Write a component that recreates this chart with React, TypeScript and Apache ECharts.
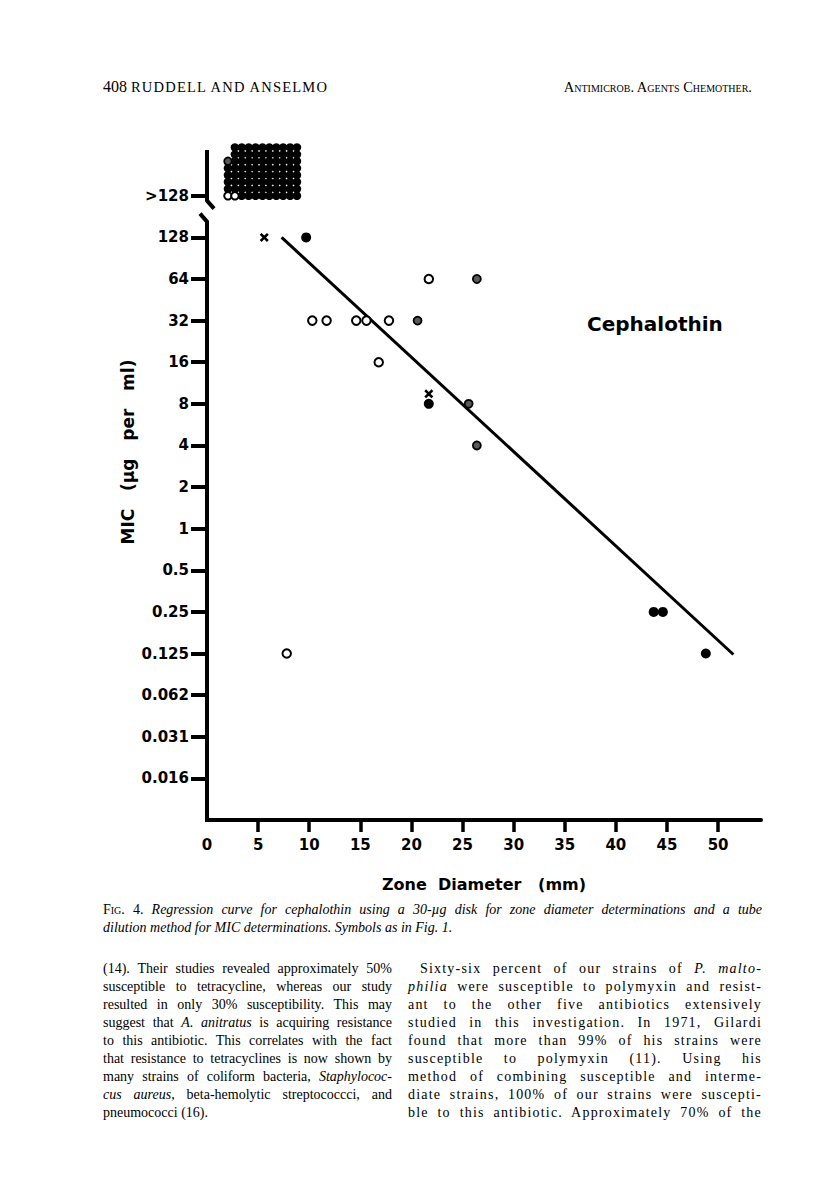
import React, { useEffect, useRef } from "react";
import * as echarts from "echarts";

// ---- axis definitions ----
const xTickValues = [5, 10, 15, 20, 25, 30, 35, 40, 45, 50];
const xLabelValues = [0, 5, 10, 15, 20, 25, 30, 35, 40, 45, 50];
const yLevels = [-6, -5, -4, -3, -2, -1, 0, 1, 2, 3, 4, 5, 6, 7, 8];
const yTickLabels = ["0.016", "0.031", "0.062", "0.125", "0.25", "0.5", "1", "2", "4", "8", "16", "32", "64", "128", ">128"];

// ---- individual strains (zone diameter mm, MIC µg/ml) ----
const filledZone = [9.7, 21.7, 43.7, 44.6, 48.8];
const filledMic = [128, 8, 0.25, 0.25, 0.125];
const openZone = [7.8, 21.7, 10.3, 11.7, 14.6, 15.6, 17.8, 16.8];
const openMic = [0.125, 64, 32, 32, 32, 32, 32, 16];
const hatchedZone = [26.4, 20.6, 25.6, 26.4];
const hatchedMic = [64, 32, 8, 4];
const crossZone = [5.6, 21.7];
const crossMic = [128, 8];
const crossStack = [0, 1];

// ---- regression line ----
const regressionZone = [7.3, 51.5];
const regressionMic = [128, 0.123];

// ---- >128 cluster (stacked symbols) ----
const clusterZone = [2.05, 2.73, 3.4, 4.08, 4.75, 5.43, 6.1, 6.78, 7.45, 8.13, 8.8];
const clusterLevel = [8.0, 8.166, 8.332, 8.498, 8.664, 8.83, 8.996, 9.162];
const clusterRows = [
  "ooFFFFFFFFF",
  "FFFFFFFFFFF",
  "FFFFFFFFFFF",
  "FFFFFFFFFFF",
  "FFFFFFFFFFF",
  "hFFFFFFFFFF",
  ".FFFFFFFFFF",
  ".FFFFFFFFFF",
];

const FONT = '"DejaVu Sans", "Liberation Sans", sans-serif';
const CROSS = "path://M2,0 L5,3 L8,0 L10,2 L7,5 L10,8 L8,10 L5,7 L2,10 L0,8 L3,5 L0,2 Z";

export default function App() {
  const ref = useRef<HTMLDivElement>(null);

  useEffect(() => {
    const chart = echarts.init(ref.current!, null, { renderer: "svg" });
    const lg = (v: number) => Math.log2(v);

    const cFilled: number[][] = [];
    const cOpen: number[][] = [];
    const cHatch: number[][] = [];
    clusterRows.forEach((row, r) => {
      row.split("").forEach((ch, c) => {
        const pt = [clusterZone[c], clusterLevel[r]];
        if (ch === "F") cFilled.push(pt);
        else if (ch === "o") cOpen.push(pt);
        else if (ch === "h") cHatch.push(pt);
      });
    });

    const filledStyle = { color: "#000", opacity: 1 };
    const openStyle = { color: "#fff", borderColor: "#000", borderWidth: 2, opacity: 1 };
    const hatchStyle = { color: "#5a5a5a", borderColor: "#000", borderWidth: 1.8, opacity: 1 };

    chart.setOption({
      animation: false,
      grid: { left: 207, top: 150, width: 554, height: 670 },
      xAxis: {
        type: "value",
        min: 0,
        max: 54.2,
        interval: 5,
        splitLine: { show: false },
        axisLine: { show: true, onZero: false, lineStyle: { color: "#000", width: 4 } },
        axisTick: { show: true, customValues: xTickValues, length: 12, lineStyle: { color: "#000", width: 3.5 } },
        axisLabel: {
          customValues: xLabelValues,
          margin: 17,
          color: "#000",
          fontFamily: FONT,
          fontWeight: "bold",
          fontSize: 15,
        },
        name: "Zone  Diameter   (mm)",
        nameLocation: "middle",
        nameGap: 56,
        nameTextStyle: { color: "#000", fontFamily: FONT, fontWeight: "bold", fontSize: 16 },
      },
      yAxis: {
        type: "value",
        min: -7,
        max: 9.1,
        interval: 1,
        splitLine: { show: false },
        axisLine: { show: false, onZero: false },
        axisTick: { show: true, customValues: yLevels, length: 16, lineStyle: { color: "#000", width: 4 } },
        axisLabel: {
          customValues: yLevels,
          margin: 18,
          color: "#000",
          fontFamily: FONT,
          fontWeight: "bold",
          fontSize: 15,
          formatter: (v: number) => {
            const i = yLevels.indexOf(Math.round(v));
            return i >= 0 ? yTickLabels[i] : "";
          },
        },
      },
      series: [
        {
          type: "line",
          data: regressionZone.map((x, i) => [x, lg(regressionMic[i])]),
          symbol: "none",
          lineStyle: { color: "#000", width: 3, opacity: 1 },
          silent: true,
          z: 1,
        },
        { type: "scatter", clip: false, data: cFilled, symbol: "circle", symbolSize: 8.5, itemStyle: filledStyle, z: 2 },
        { type: "scatter", clip: false, data: cOpen, symbol: "circle", symbolSize: 7.5, itemStyle: openStyle, z: 3 },
        { type: "scatter", clip: false, data: cHatch, symbol: "circle", symbolSize: 7.5, itemStyle: hatchStyle, z: 3 },
        {
          type: "scatter",
          clip: false,
          data: filledZone.map((x, i) => [x, lg(filledMic[i])]),
          symbol: "circle",
          symbolSize: 10,
          itemStyle: filledStyle,
          z: 4,
        },
        {
          type: "scatter",
          clip: false,
          data: openZone.map((x, i) => [x, lg(openMic[i])]),
          symbol: "circle",
          symbolSize: 8.5,
          itemStyle: openStyle,
          z: 4,
        },
        {
          type: "scatter",
          clip: false,
          data: hatchedZone.map((x, i) => [x, lg(hatchedMic[i])]),
          symbol: "circle",
          symbolSize: 8,
          itemStyle: hatchStyle,
          z: 4,
        },
        {
          type: "scatter",
          clip: false,
          data: crossZone.map((x, i) => ({ value: [x, lg(crossMic[i])], symbolOffset: [0, -10 * crossStack[i]] })),
          symbol: CROSS,
          symbolSize: 9,
          itemStyle: filledStyle,
          z: 5,
        },
      ],
    });

    const p = (x: number, y: number) => chart.convertToPixel({ gridIndex: 0 }, [x, y]) as number[];
    const [ax, yTop] = p(0, 9.1);
    const [, yBottom] = p(0, -7);
    const [, y128] = p(0, 7);
    const [, yAbove] = p(0, 8);
    const mid = (y128 + yAbove) / 2;
    const axisStroke = { stroke: "#000", lineWidth: 4, fill: "none", lineJoin: "round" };

    chart.setOption({
      graphic: [
        {
          type: "polyline",
          shape: { points: [[ax, yTop], [ax, mid - 16], [ax + 7, mid - 8]] },
          style: axisStroke,
          silent: true,
        },
        {
          type: "polyline",
          shape: { points: [[ax - 7, mid - 3], [ax, mid + 5], [ax, yBottom + 2]] },
          style: axisStroke,
          silent: true,
        },
        {
          type: "text",
          x: 128,
          y: 452,
          rotation: Math.PI / 2,
          style: {
            text: "MIC   (µg   per   ml)",
            fontFamily: FONT,
            fontWeight: "bold",
            fontSize: 17,
            fill: "#000",
            align: "center",
            verticalAlign: "middle",
          },
          silent: true,
        },
        {
          type: "text",
          x: 587,
          y: 324,
          style: {
            text: "Cephalothin",
            fontFamily: FONT,
            fontWeight: "bold",
            fontSize: 20,
            fill: "#000",
            align: "left",
            verticalAlign: "middle",
          },
          silent: true,
        },
      ],
    });

    return () => chart.dispose();
  }, []);

  const serif = '"Liberation Serif", "DejaVu Serif", serif';
  const lineStyle: React.CSSProperties = {
    height: 18,
    lineHeight: "18px",
    textAlign: "justify",
    textAlignLast: "justify",
  };
  const leftLines: React.ReactNode[] = [
    "(14). Their studies revealed approximately 50%",
    "susceptible to tetracycline, whereas our study",
    "resulted in only 30% susceptibility. This may",
    <>suggest that <i>A. anitratus</i> is acquiring resistance</>,
    "to this antibiotic. This correlates with the fact",
    "that resistance to tetracyclines is now shown by",
    <>many strains of coliform bacteria, <i>Staphylococ-</i></>,
    <><i>cus aureus</i>, beta-hemolytic streptococcci, and</>,
  ];
  const rightLines: React.ReactNode[] = [
    <>Sixty-six percent of our strains of <i>P. malto-</i></>,
    <><i>philia</i> were susceptible to polymyxin and resist-</>,
    "ant to the other five antibiotics extensively",
    "studied in this investigation. In 1971, Gilardi",
    "found that more than 99% of his strains were",
    "susceptible to polymyxin (11). Using his",
    "method of combining susceptible and interme-",
    "diate strains, 100% of our strains were suscepti-",
    "ble to this antibiotic. Approximately 70% of the",
  ];

  return (
    <div style={{ position: "absolute", left: 0, top: 0, width: 816, height: 1190, background: "#fff", overflow: "hidden" }}>
      <div ref={ref} style={{ position: "absolute", left: 0, top: 0, width: 816, height: 1190 }} />
      {/* running header */}
      <div style={{ position: "absolute", left: 103, top: 78, fontFamily: serif, fontSize: 16, color: "#000", whiteSpace: "nowrap" }}>
        408 <span style={{ fontSize: 14.5, letterSpacing: 1.2 }}>RUDDELL AND ANSELMO</span>
      </div>
      <div style={{ position: "absolute", right: 64, top: 79, fontFamily: serif, fontSize: 14.5, color: "#000", whiteSpace: "nowrap", fontVariant: "small-caps" }}>
        Antimicrob. Agents Chemother.
      </div>
      {/* caption */}
      <div style={{ position: "absolute", left: 103, top: 901, width: 659, fontFamily: serif, fontSize: 14, color: "#000" }}>
        <div style={lineStyle}>
          <span style={{ fontVariant: "small-caps" }}>Fig.</span> 4. <i>Regression curve for cephalothin using a 30-µg disk for zone diameter determinations and a tube</i>
        </div>
        <div style={{ height: 18, lineHeight: "18px" }}>
          <i>dilution method for MIC determinations. Symbols as in Fig. 1.</i>
        </div>
      </div>
      {/* body text, left column */}
      <div style={{ position: "absolute", left: 103, top: 960, width: 289, fontFamily: serif, fontSize: 14, color: "#000" }}>
        {leftLines.map((l, i) => (
          <div key={i} style={lineStyle}>{l}</div>
        ))}
        <div style={{ height: 18, lineHeight: "18px" }}>pneumococci (16).</div>
      </div>
      {/* body text, right column */}
      <div style={{ position: "absolute", left: 408, top: 960, width: 354, fontFamily: serif, fontSize: 14, color: "#000", letterSpacing: 1.2 }}>
        {rightLines.map((l, i) => (
          <div key={i} style={{ ...lineStyle, paddingLeft: i === 0 ? 12 : 0 }}>{l}</div>
        ))}
      </div>
    </div>
  );
}
